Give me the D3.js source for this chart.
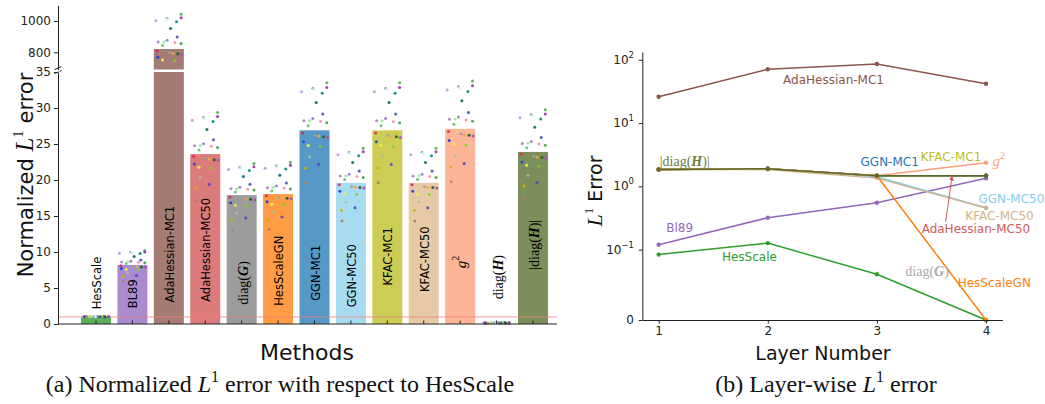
<!DOCTYPE html>
<html><head><meta charset="utf-8">
<script src="https://cdn.jsdelivr.net/npm/d3@7"></script>
<style>body{margin:0;background:#fff} svg{display:block}</style>
</head><body>
<svg id="c" width="1045" height="404"></svg>
<script>
// ---------------- data: panel (a) ----------------
const methods = ["HesScale","BL89","AdaHessian-MC1","AdaHessian-MC50","diag(G)","HesScaleGN","GGN-MC1","GGN-MC50","KFAC-MC1","KFAC-MC50","g2","diag(H)","|diag(H)|"];
const meanError = [1.0, 8.2, 821, 23.6, 17.9, 18.05, 26.9, 19.6, 26.9, 19.6, 27.1, 0.15, 23.9];
const seedSpread = [0, 1, 1.1, 1, 1, 1, 1, 1, 1, 1, 1, 1, 1];
const barColors = ["#5cb05c","#a98bd0","#a57c73","#dc7b7b","#9c9c9c","#ff9c45","#5699c6","#a6dbf1","#cdcd55","#e6c9a5","#fdb597","#ffffff","#7c8f5a"];
const labelCenter = [5.7, 4.2, 9.7, 10.3, 5.7, 7.4, 7.1, 6.7, 9.4, 9.0, 8.6, 6.5, 11.0];
// per-seed values relative to the method mean, their horizontal jitter and colours
const seedRatio  = [1.245,1.199,1.217,1.192,1.221,1.144,1.084,1.049,1.061,1.046,1.024,1.039,0.967,0.986,0.941,0.969,0.975,0.922,0.917,0.963,0.864,0.823,0.804,0.729,1.21,1.05];
const seedJitter = [0.338,-0.357,-0.047,0.212,0.338,0.047,0.228,-0.294,-0.047,0.165,-0.173,0.338,0.247,-0.321,-0.302,0.118,0.02,-0.173,0.157,0.357,-0.137,0.110,-0.255,-0.247,-0.02,-0.137];
const seedColors = ["#4caf50","#b39ddb","#a0a0a0","#00897b","#9c27b0","#00695c","#3f51b5","#b07cc6","#9575cd","#f48fb1","#66bb6a","#43a047","#1b5e20","#e91e63","#1e3fd8","#f4a742","#9e9e9e","#f5f542","#7cd321","#ab47bc","#a5c29a","#5b3fc4","#c8b400","#b08060","#c8f8f8","#90ee90"];
const lowTicks = [0,5,10,15,20,25,30,35];
const upTicks = [800,1000];

// ---------------- data: panel (b) ----------------
const layers = [1,2,3,4];
const errBL89      = [0.12, 0.32, 0.55, 1.34];
const errHesScale  = [0.093, 0.127, 0.065, 0];
const errGGNMC50   = [1.85, 1.88, 1.42, 0.46];
const errKFACMC50  = [1.83, 1.85, 1.35, 0.455];
const errDiagG     = [1.85, 1.9, 1.47, 1.47];
const errAdaMC50   = [1.85, 1.9, 1.47, 1.47];
const errGGNMC1    = [1.85, 1.9, 1.47, 1.47];
const errKFACMC1   = [1.85, 1.9, 1.47, 1.47];
const errHesScaleGN= [1.85, 1.9, 1.47, 0];
const errG2        = [1.85, 1.9, 1.47, 2.37];
const errAbsDiagH  = [1.85, 1.9, 1.47, 1.47];
const errAdaMC1    = [26.1, 70.7, 85.7, 41.9];
const rightTicks = [0, 0.1, 1, 10, 100];

const svg = d3.select("#c");
const SANS = "DejaVu Sans, sans-serif";
const SERIF = "Liberation Serif, DejaVu Serif, serif";

function rich(sel, parts){
  parts.forEach(p=>{
    const t = sel.append("tspan").text(p.t);
    if(p.f) t.attr("font-family", p.f);
    if(p.i) t.attr("font-style","italic");
    if(p.b) t.attr("font-weight","bold");
    if(p.s) t.attr("font-size", p.s);
    if(p.dy) t.attr("dy", p.dy);
  });
  return sel;
}
const richLabels = {
  "diag(G)": [{t:"diag(",f:SERIF,s:14},{t:"G",f:SERIF,s:14,i:1,b:1},{t:")",f:SERIF,s:14}],
  "diag(H)": [{t:"diag(",f:SERIF,s:14},{t:"H",f:SERIF,s:14,i:1,b:1},{t:")",f:SERIF,s:14}],
  "|diag(H)|": [{t:"|diag(",f:SERIF,s:14},{t:"H",f:SERIF,s:14,i:1,b:1},{t:")|",f:SERIF,s:14}],
  "g2": [{t:"g",f:SERIF,s:15,i:1},{t:"2",f:SERIF,s:10,dy:-6}]
};

// ---------------- panel (a) ----------------
const x = d3.scaleBand().domain(methods).range([77.8, 551.2]).paddingInner(0.176).paddingOuter(0.088);
const yLow = d3.scaleLinear().domain([0,35]).range([324,72]);
const yUp  = d3.scaleLinear().domain([690,1100]).range([69.5,5.3]);
const A = svg.append("g");

methods.forEach((m,i)=>{
  const v = meanError[i];
  if(v > 35){
    A.append("rect").attr("x",x(m)).attr("width",x.bandwidth())
      .attr("y",yLow(35)).attr("height",yLow(0)-yLow(35)).attr("fill",barColors[i]);
    A.append("rect").attr("x",x(m)).attr("width",x.bandwidth())
      .attr("y",yUp(v)).attr("height",yUp(690)-yUp(v)).attr("fill",barColors[i]);
  } else {
    A.append("rect").attr("x",x(m)).attr("width",x.bandwidth())
      .attr("y",yLow(v)).attr("height",yLow(0)-yLow(v)).attr("fill",barColors[i]);
  }
});
A.append("line").attr("x1",58).attr("x2",557).attr("y1",yLow(1)).attr("y2",yLow(1))
  .attr("stroke","#f08080").attr("stroke-opacity",0.45).attr("stroke-width",1.8);

methods.forEach((m,i)=>{
  seedRatio.forEach((r,k)=>{
    const v = meanError[i]*(1 + seedSpread[i]*(r-1));
    let yy = null;
    if(v <= 35) yy = yLow(v); else if(v >= 700) yy = yUp(v);
    if(yy===null) return;
    A.append("circle").attr("cx", x(m)+x.bandwidth()/2 + seedJitter[k]*x.step())
      .attr("cy", yy).attr("r",1.5).attr("fill",seedColors[k]).attr("fill-opacity",0.9);
  });
});

methods.forEach((m,i)=>{
  const g = A.append("g").attr("transform",`translate(${x(m)+x.bandwidth()/2+1},${yLow(labelCenter[i])}) rotate(-90)`);
  const t = g.append("text").attr("text-anchor","middle").attr("dominant-baseline","central")
    .attr("font-family",SANS).attr("font-size",11.5).attr("fill","#000");
  if(richLabels[m]) rich(t, richLabels[m]); else t.text(m);
});

const axLow = A.append("g").attr("transform","translate(58,0)")
  .call(d3.axisLeft(yLow).tickValues(lowTicks).tickSize(4).tickSizeOuter(0).tickPadding(3).tickFormat(d3.format("d")));
const axUp = A.append("g").attr("transform","translate(58,0)")
  .call(d3.axisLeft(yUp).tickValues(upTicks).tickSize(4).tickSizeOuter(0).tickPadding(3).tickFormat(d3.format("d")));
[axLow, axUp].forEach(a=>{ a.selectAll("text").attr("font-family",SANS).attr("font-size",12).attr("fill","#222");
  a.select(".domain").attr("stroke","#222"); a.selectAll(".tick line").attr("stroke","#222"); });
A.append("path").attr("d","M54.5,69.5 L61.5,66.5 M54.5,73.5 L61.5,70.5").attr("stroke","#222").attr("fill","none").attr("stroke-width",1);
A.append("rect").attr("x",56).attr("y",70).attr("width",4).attr("height",1.6).attr("fill","#fff");
A.append("line").attr("x1",58).attr("x2",557).attr("y1",324).attr("y2",324).attr("stroke","#222");
const axX = A.append("g").attr("transform","translate(0,324)")
  .call(d3.axisBottom(x).tickSize(-3.5).tickSizeOuter(0).tickFormat(""));
axX.select(".domain").remove();
axX.selectAll(".tick line").attr("stroke","#222");

const yl = A.append("text").attr("transform","translate(33,175) rotate(-90)").attr("text-anchor","middle")
  .attr("font-family",SANS).attr("font-size",21).attr("fill","#111");
rich(yl,[{t:"Normalized "},{t:"L",f:SERIF,i:1,s:25},{t:"1",f:SERIF,s:15,dy:-10},{t:" error",dy:10}]);
A.append("text").attr("x",307).attr("y",360).attr("text-anchor","middle")
  .attr("font-family",SANS).attr("font-size",22).attr("fill","#111").text("Methods");
const capA = A.append("text").attr("x",280).attr("y",392).attr("text-anchor","middle")
  .attr("font-family",SERIF).attr("font-size",24).attr("fill","#111");
rich(capA,[{t:"(a) Normalized "},{t:"L",i:1},{t:"1",s:16,dy:-10},{t:" error with respect to HesScale",dy:10}]);

// ---------------- panel (b) ----------------
const LT = 0.1, LS = 1/(1-1/10);
const symT = v => v <= LT ? v/LT*LS : LS + Math.log10(v/LT);
const xR = d3.scaleLinear().domain([0.85,4.15]).range([642.3,1002.4]);
const yT = d3.scaleLinear().domain([0,4.234]).range([320,52]);
const yR = v => yT(symT(v));
const B = svg.append("g");

const series = [
  {vals:errBL89, c:"#9467bd"},
  {vals:errHesScale, c:"#2ca02c"},
  {vals:errGGNMC50, c:"#87ceeb"},
  {vals:errKFACMC50, c:"#d2b48c"},
  {vals:errDiagG, c:"#a9a9a9"},
  {vals:errAdaMC50, c:"#cd5c5c"},
  {vals:errGGNMC1, c:"#1f77b4"},
  {vals:errKFACMC1, c:"#bcbd22"},
  {vals:errHesScaleGN, c:"#ff7f0e"},
  {vals:errG2, c:"#ffa07a"},
  {vals:errAbsDiagH, c:"#556b2f"},
  {vals:errAdaMC1, c:"#8c564b"}
];
const line = d3.line().x(d=>xR(d[0])).y(d=>yR(d[1]));
series.forEach(s=>{
  const pts = layers.map((l,i)=>[l,s.vals[i]]);
  B.append("path").attr("d",line(pts)).attr("fill","none").attr("stroke",s.c).attr("stroke-width",1.5);
  B.selectAll(null).data(pts).enter().append("circle")
    .attr("cx",d=>xR(d[0])).attr("cy",d=>yR(d[1])).attr("r",2.2).attr("fill",s.c);
});

const axRX = B.append("g").attr("transform","translate(0,320)")
  .call(d3.axisBottom(xR).tickValues(layers).tickSize(3.5).tickSizeOuter(0).tickPadding(3).tickFormat(d3.format("d")));
const axRY = B.append("g").attr("transform","translate(642.3,0)")
  .call(d3.axisLeft(yT).tickValues(rightTicks.map(symT)).tickSize(3.5).tickSizeOuter(0).tickFormat(""));
[axRX, axRY].forEach(a=>{ a.selectAll("text").attr("font-family",SANS).attr("font-size",12).attr("fill","#222");
  a.select(".domain").attr("stroke","#222"); a.selectAll(".tick line").attr("stroke","#222"); });
rightTicks.forEach(v=>{
  const t = B.append("text").attr("x",634).attr("y",yR(v)).attr("text-anchor","end")
    .attr("dominant-baseline","central").attr("font-family",SANS).attr("font-size",12).attr("fill","#222");
  if(v===0) t.text("0");
  else rich(t,[{t:"10"},{t:v===0.1?"\u22121":String(Math.round(Math.log10(v))),s:8.5,dy:-5}]);
});

const ann = [
  {p:[2.14,47.9], c:"#8c564b", t:"AdaHessian-MC1"},
  {p:[1.01,2.52], c:"#6b7d3e", r:[{t:"|diag(",f:SERIF,s:14},{t:"H",f:SERIF,s:14,i:1,b:1},{t:")|",f:SERIF,s:14}]},
  {p:[2.85,2.43], c:"#1f77b4", t:"GGN-MC1"},
  {p:[3.40,2.92], c:"#bcbd22", t:"KFAC-MC1"},
  {p:[4.06,2.55], c:"#ffa07a", r:[{t:"g",f:SERIF,s:15,i:1},{t:"2",f:SERIF,s:10,dy:-6}]},
  {p:[3.93,0.63], c:"#87ceeb", t:"GGN-MC50"},
  {p:[3.81,0.34], c:"#d2b48c", t:"KFAC-MC50"},
  {p:[3.41,0.214], c:"#cd5c5c", t:"AdaHessian-MC50"},
  {p:[3.26,0.0697], c:"#a9a9a9", r:[{t:"diag(",f:SERIF,s:14},{t:"G",f:SERIF,s:14,i:1,b:1},{t:")",f:SERIF,s:14}]},
  {p:[3.74,0.0526], c:"#ff7f0e", t:"HesScaleGN"},
  {p:[1.58,0.0896], c:"#2ca02c", t:"HesScale"},
  {p:[1.07,0.22], c:"#9467bd", t:"Bl89"}
];
ann.forEach(a=>{
  const t = B.append("text").attr("x",xR(a.p[0])).attr("y",yR(a.p[1])).attr("dominant-baseline","central")
    .attr("font-family",SANS).attr("font-size",12).attr("fill",a.c);
  if(a.r) rich(t,a.r); else t.text(a.t);
});
svg.append("defs").append("marker").attr("id","ah").attr("viewBox","0 0 10 10").attr("refX",9).attr("refY",5)
  .attr("markerWidth",6).attr("markerHeight",6).attr("orient","auto")
  .append("path").attr("d","M0,1 L10,5 L0,9 z").attr("fill","#cd5c5c");
B.append("line").attr("x1",xR(3.63)).attr("y1",yR(0.276)).attr("x2",xR(3.69)).attr("y2",yR(1.5))
  .attr("stroke","#cd5c5c").attr("stroke-width",1).attr("marker-end","url(#ah)");

const yl2 = B.append("text").attr("transform","translate(602,191) rotate(-90)").attr("text-anchor","middle")
  .attr("font-family",SANS).attr("font-size",19).attr("fill","#111");
rich(yl2,[{t:"L",f:SERIF,i:1,s:22},{t:"1",f:SERIF,s:13,dy:-9},{t:" Error",dy:9}]);
B.append("text").attr("x",823).attr("y",360).attr("text-anchor","middle")
  .attr("font-family",SANS).attr("font-size",19).attr("fill","#111").text("Layer Number");
const capB = B.append("text").attr("x",826).attr("y",392).attr("text-anchor","middle")
  .attr("font-family",SERIF).attr("font-size",24).attr("fill","#111");
rich(capB,[{t:"(b) Layer-wise "},{t:"L",i:1},{t:"1",s:16,dy:-10},{t:" error",dy:10}]);
</script>
</body></html>
